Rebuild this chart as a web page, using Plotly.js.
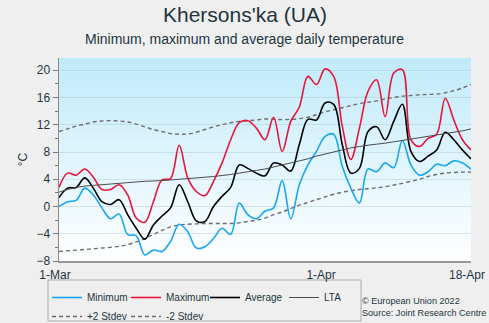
<!DOCTYPE html>
<html>
<head>
<meta charset="utf-8">
<script src="https://cdn.plot.ly/plotly-3.0.1.min.js"></script>
<style>html,body{margin:0;padding:0;background:#efefef;}#chart{width:489px;height:323px;}</style>
</head>
<body>
<div id="chart"></div>
<script>
const dates = [
 '2022-03-01','2022-03-02','2022-03-03','2022-03-04','2022-03-05','2022-03-06','2022-03-07','2022-03-08','2022-03-09','2022-03-10',
 '2022-03-11','2022-03-12','2022-03-13','2022-03-14','2022-03-15','2022-03-16','2022-03-17','2022-03-18','2022-03-19','2022-03-20',
 '2022-03-21','2022-03-22','2022-03-23','2022-03-24','2022-03-25','2022-03-26','2022-03-27','2022-03-28','2022-03-29','2022-03-30',
 '2022-03-31','2022-04-01','2022-04-02','2022-04-03','2022-04-04','2022-04-05','2022-04-06','2022-04-07','2022-04-08','2022-04-09',
 '2022-04-10','2022-04-11','2022-04-12','2022-04-13','2022-04-14','2022-04-15','2022-04-16','2022-04-17','2022-04-18'];

const minimum = [0.0,0.7,0.9,2.7,1.7,-0.2,-1.8,-1.1,-4.1,-4.3,
 -7.1,-6.4,-6.6,-5.1,-2.6,-3.7,-6.1,-5.9,-4.7,-3.2,
 -4.1,0.5,-1.2,-1.8,-0.7,-0.2,3.8,-1.8,3.2,6.1,
 8.1,10.3,10.6,5.9,2.7,0.5,5.5,5.1,6.4,5.7,
 9.7,6.1,4.6,5.1,6.2,6.0,6.7,6.4,5.5];

const maximum = [2.8,4.9,4.6,5.5,4.3,2.5,2.5,3.2,1.7,-1.7,
 -2.3,0.7,3.9,4.1,9.0,4.2,2.2,1.6,3.7,6.4,
 9.8,12.3,12.6,11.5,9.8,13.1,8.1,12.5,14.6,19.1,
 17.9,20.2,19.1,11.8,6.9,11.5,16.9,18.6,13.2,19.6,
 20.1,9.8,8.8,10.0,10.6,15.9,12.7,9.8,8.3];

const average = [1.3,2.7,2.8,4.2,2.7,0.7,0.3,1.0,-1.2,-3.2,
 -4.8,-2.7,-1.4,-0.2,3.2,0.7,-2.1,-2.2,0.0,1.5,
 2.8,6.1,5.6,4.9,4.5,6.4,6.1,5.2,9.1,12.8,
 12.7,15.2,15.0,9.1,4.9,5.6,11.0,11.7,9.8,12.5,
 15.0,8.1,6.6,7.4,8.3,10.9,9.8,8.3,7.0];

const lta = [2.1,2.5,2.8,3.0,3.1,3.2,3.3,3.4,3.5,3.6,
 3.7,3.75,3.8,3.9,4.0,4.1,4.2,4.3,4.4,4.55,
 4.7,4.9,5.1,5.3,5.5,5.8,6.1,6.4,6.7,7.0,
 7.4,7.7,8.0,8.3,8.6,8.8,9.0,9.15,9.3,9.5,
 9.7,9.9,10.1,10.3,10.5,10.7,10.9,11.1,11.4];

const plus2 = [11.0,11.4,11.8,12.1,12.4,12.55,12.6,12.55,12.4,12.1,
 11.7,11.3,11.0,10.7,10.6,10.65,10.9,11.3,11.7,12.0,
 12.3,12.5,12.6,12.7,12.85,12.8,12.75,12.8,12.9,13.1,
 13.5,13.9,14.2,14.5,14.8,15.1,15.3,15.5,15.8,16.0,
 16.2,16.3,16.4,16.45,16.5,16.7,17.0,17.4,17.9];

const minus2 = [-6.6,-6.5,-6.4,-6.3,-6.2,-6.1,-6.0,-5.85,-5.6,-5.2,
 -4.7,-4.1,-3.5,-3.0,-2.7,-2.6,-2.55,-2.5,-2.5,-2.5,
 -2.5,-2.4,-2.2,-2.0,-1.7,-1.2,-0.8,-0.3,0.2,0.6,
 1.0,1.4,1.8,2.1,2.3,2.5,2.6,2.75,2.9,3.15,
 3.4,3.7,4.0,4.4,4.7,4.9,5.0,5.05,5.05];

const tickDates = ['2022-03-01','2022-04-01','2022-04-18'];
const tickLabels = ['1-Mar','1-Apr','18-Apr'];

const txtColor = '#1d3540';
const fontFam = 'Liberation Sans, Arial, sans-serif';

const traces = [
  {x: dates, y: plus2, name: '+2 Stdev', legend: 'legend2', mode: 'lines',
   line: {color: '#6e6e6e', width: 1.4, dash: '4px,3px', shape: 'spline'}},
  {x: dates, y: minus2, name: '-2 Stdev', legend: 'legend2', mode: 'lines',
   line: {color: '#6e6e6e', width: 1.4, dash: '4px,3px', shape: 'spline'}},
  {x: dates, y: minimum, name: 'Minimum', mode: 'lines',
   line: {color: '#1aa6f0', width: 1.6, shape: 'spline'}},
  {x: dates, y: maximum, name: 'Maximum', mode: 'lines',
   line: {color: '#e8163a', width: 1.6, shape: 'spline'}},
  {x: dates, y: average, name: 'Average', mode: 'lines',
   line: {color: '#000000', width: 1.6, shape: 'spline'}},
  {x: dates, y: lta, name: 'LTA', mode: 'lines',
   line: {color: '#4a4a4a', width: 1, shape: 'spline'}}
];

// plot area occupies pixels x 59..471, y 58..261 of the 489x323 page
const PL = 59, PW = 412, PB = 261, PH = 203, H = 323;
const px = v => (v - PL) / PW;   // pixel x -> paper x
const py = v => (PB - v) / PH;   // pixel y -> paper y

// vertical gradient background in the plot area
const shapes = [];
const nBands = 60;
const colTop = [192, 234, 250], colBot = [255, 255, 255];
for (let i = 0; i < nBands; i++) {
  const t = (i + 0.5) / nBands;
  const c = colBot.map((b, k) => Math.round(b + (colTop[k] - b) * t));
  shapes.push({type: 'rect', xref: 'paper', yref: 'paper', x0: 0, x1: 1,
    y0: i / nBands, y1: Math.min(1, (i + 1) / nBands + 0.002), line: {width: 0},
    fillcolor: 'rgb(' + c.join(',') + ')', layer: 'below'});
}
// legend box
shapes.push({type: 'rect', xref: 'paper', yref: 'paper',
  x0: px(48), x1: px(361), y0: py(321), y1: py(280),
  line: {color: '#a9a9a9', width: 1}, fillcolor: '#efefef', layer: 'below'});

const layout = {
  width: 489, height: 323,
  paper_bgcolor: '#efefef', plot_bgcolor: '#ffffff',
  margin: {l: 59, r: 18, t: 58, b: 62, autoexpand: false},
  font: {family: fontFam, color: txtColor, size: 12},
  xaxis: {type: 'date', range: ['2022-03-01', '2022-04-18'],
    tickvals: tickDates, ticktext: tickLabels, ticks: '',
    showgrid: false, zeroline: false, showline: true,
    linecolor: '#9a9a9a', linewidth: 2, ticklabelshift: -4, ticklabelstandoff: 2,
    tickfont: {size: 12, color: txtColor}},
  yaxis: {range: [-8, 21.8], dtick: 4, tick0: 0, ticks: 'outside', ticklen: 5,
    tickcolor: '#7a7a7a', tickwidth: 1,
    minor: {dtick: 2, ticks: 'outside', ticklen: 3, tickcolor: '#7a7a7a', showgrid: false},
    showgrid: true, gridcolor: 'rgba(150,185,200,0.35)', gridwidth: 1,
    zeroline: false, showline: true, linecolor: '#8a8a8a', linewidth: 1.5,
    tickfont: {size: 12, color: txtColor},
    title: {text: '°C', standoff: 6, font: {size: 12, color: txtColor}}},
  showlegend: true,
  legend: {orientation: 'h', xref: 'container', yref: 'container',
    x: 47 / 489, xanchor: 'left', y: 1 - 283 / H, yanchor: 'top',
    bgcolor: 'rgba(0,0,0,0)', borderwidth: 0, entrywidth: 34,
    font: {size: 10, color: txtColor, family: fontFam}, traceorder: 'normal'},
  legend2: {orientation: 'h', xref: 'container', yref: 'container',
    x: 47 / 489, xanchor: 'left', y: 1 - 302 / H, yanchor: 'top',
    bgcolor: 'rgba(0,0,0,0)', borderwidth: 0, entrywidth: 34,
    font: {size: 10, color: txtColor, family: fontFam}, traceorder: 'normal'},
  shapes: shapes,
  annotations: [
    {text: "Khersons'ka (UA)", xref: 'paper', yref: 'paper', x: px(244.5), y: py(14),
     xanchor: 'center', yanchor: 'middle', showarrow: false,
     font: {size: 21, color: txtColor, family: fontFam}},
    {text: 'Minimum, maximum and average daily temperature', xref: 'paper', yref: 'paper',
     x: px(244.5), y: py(39), xanchor: 'center', yanchor: 'middle', showarrow: false,
     font: {size: 14, color: txtColor, family: fontFam}},
    {text: '© European Union 2022', xref: 'paper', yref: 'paper', x: px(361), y: py(301),
     xanchor: 'left', yanchor: 'middle', showarrow: false, borderpad: 0,
     font: {size: 9.1, color: txtColor}},
    {text: 'Source: Joint Research Centre', xref: 'paper', yref: 'paper', x: px(361), y: py(313),
     xanchor: 'left', yanchor: 'middle', showarrow: false, borderpad: 0,
     font: {size: 9.1, color: txtColor}}
  ]
};

Plotly.newPlot('chart', traces, layout, {displayModeBar: false, staticPlot: true});
</script>
</body>
</html>
